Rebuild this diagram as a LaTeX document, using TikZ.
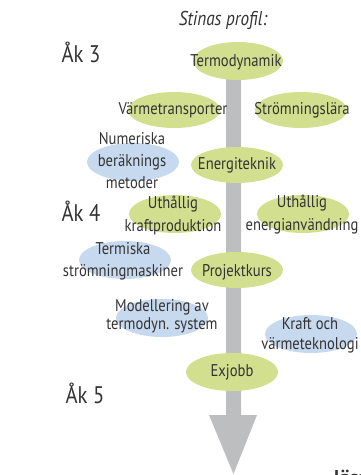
\documentclass[tikz,border=0pt]{standalone}
\usepackage{fontspec}
\setmainfont{PT Sans}
\newfontfamily\condfont[FakeStretch=0.86]{PT Sans}
\definecolor{leafgreen}{HTML}{D2DF8E}
\definecolor{skyblue}{HTML}{C7D9EE}
\definecolor{shaftgray}{HTML}{BDBEC0}
\definecolor{inkgray}{HTML}{333333}
\begin{document}
\begin{tikzpicture}[x=1pt,y=-1pt,
  lbl/.style={inner sep=0pt,align=center,text=inkgray,font=\condfont\fontsize{17}{20}\selectfont},
  year/.style={inner sep=0pt,text=inkgray,font=\condfont\fontsize{24}{28}\selectfont},
  greenblob/.style={fill=leafgreen},
  blueblob/.style={fill=skyblue}]
\useasboundingbox (0,0) rectangle (360,475);
\begin{scope}
\clip (0,0) rectangle (360,475);
% main arrow
\coordinate (top) at (233.5,62);
\coordinate (tip) at (233.5,474);
\fill[shaftgray] (226,62) -- (241,62) -- (241,415) -- (257,415) -- (tip) -- (209,415) -- (226,415) -- cycle;
% ellipses
\fill[greenblob] (238,61) ellipse (45 and 19);
\fill[greenblob] (174,110) ellipse (46 and 18);
\fill[greenblob] (301,110) ellipse (46 and 18);
\fill[blueblob] (133,162) ellipse (46 and 19);
\fill[greenblob] (237,165) ellipse (46 and 18);
\fill[greenblob] (175,214) ellipse (46 and 19);
\fill[greenblob] (303,214) ellipse (46 and 19);
\fill[blueblob] (125,260) ellipse (46 and 19);
\fill[greenblob] (237,270) ellipse (46 and 18);
\fill[blueblob] (162,318) ellipse (46 and 19);
\fill[blueblob] (311,334) ellipse (46 and 19);
\fill[greenblob] (232,372) ellipse (46 and 19);
% texts
\node[lbl,font=\condfont\itshape\fontsize{20}{22}\selectfont] (title) at (223,20) {Stinas profil:};
\node[year] (ak3) at (81,52) {Åk 3};
\node[year] (ak4) at (81,211) {Åk 4};
\node[year] (ak5) at (85,393) {Åk 5};
\node[lbl] (termo) at (236,62) {Termodynamik};
\node[lbl] (varme) at (173,110) {Värmetransporter};
\node[lbl] (strom) at (302,110) {Strömningslära};
\node[lbl,font=\condfont\fontsize{17}{22}\selectfont] (numer) at (132,161) {Numeriska\\beräknings\\metoder};
\node[lbl,font=\condfont\fontsize{17}{23}\selectfont] (kraftp) at (173,215) {Uthållig\\kraftproduktion};
\node[lbl] (energi) at (237,165) {Energiteknik};
\node[lbl,font=\condfont\fontsize{17}{23}\selectfont] (energia) at (302,215) {Uthållig\\energianvändning};
\node[lbl,font=\condfont\fontsize{17}{22}\selectfont] (termisk) at (123,261) {Termiska\\strömningmaskiner};
\node[lbl] (projekt) at (237,272) {Projektkurs};
\node[lbl,font=\condfont\fontsize{17}{18.5}\selectfont] (modell) at (162,316) {Modellering av\\termodyn. system};
\node[lbl,font=\condfont\fontsize{17}{20}\selectfont] (kraftv) at (310,335) {Kraft och\\värmeteknologi};
\node[lbl] (exjobb) at (232,372) {Exjobb};
\node[anchor=base west,inner sep=0pt,text=inkgray,font=\bfseries\fontsize{20}{22}\selectfont] (las) at (334,484) {läsa};
\end{scope}
\end{tikzpicture}
\end{document}
